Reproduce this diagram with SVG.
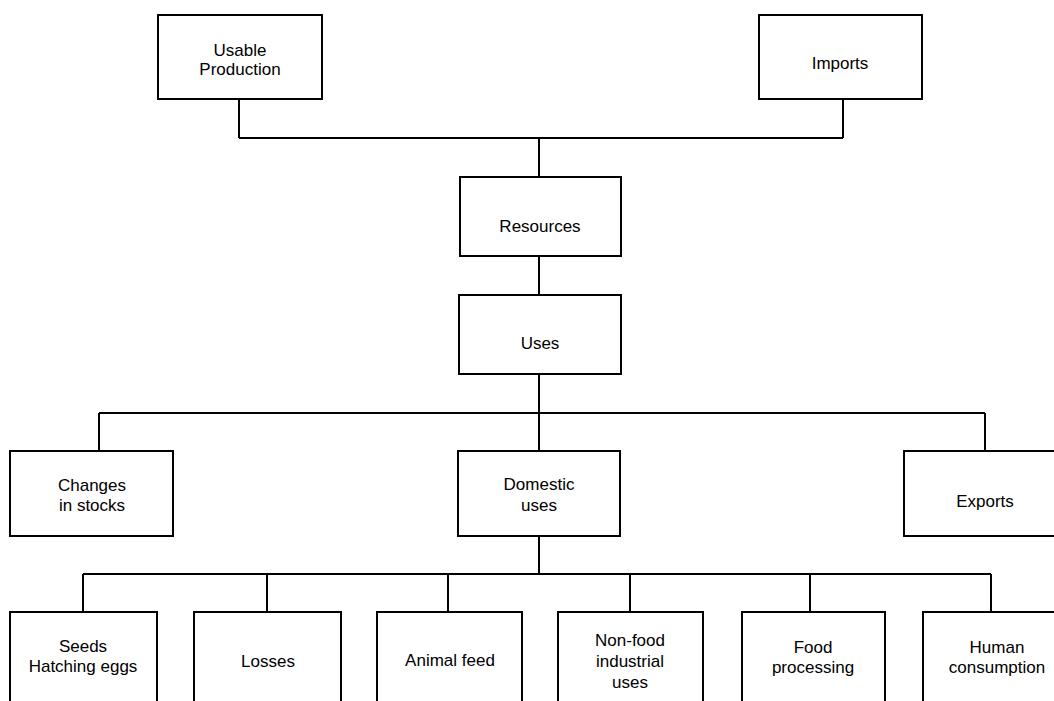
<svg xmlns="http://www.w3.org/2000/svg" width="1054" height="701" viewBox="0 0 1054 701">
<style>
.box{fill:#fff;stroke:#000;stroke-width:2}
.ln{fill:none;stroke:#000;stroke-width:2}
text{font-family:"Liberation Sans",Arial,sans-serif;font-size:17px;fill:#000;text-anchor:middle}
</style>
<rect width="1054" height="701" fill="#fff"/>
<g id="connectors" class="ln">
<path d="M239 99V138M843 99V138M239 138H843M539 138V177"/>
<path d="M539 256V295"/>
<path d="M539 374V451M99 413H985M99 413V451M985 413V451"/>
<path d="M539 536V574M83 574H991M83 574V612M267 574V612M448 574V612M630 574V612M810 574V612M991 574V612"/>
</g>
<g id="usable-production"><rect class="box" x="158" y="15" width="164" height="84"/><text x="240" y="56">Usable</text><text x="240" y="75">Production</text></g>
<g id="imports"><rect class="box" x="759" y="15" width="163" height="84"/><text x="840" y="69">Imports</text></g>
<g id="resources"><rect class="box" x="460" y="177" width="161" height="79"/><text x="540" y="232">Resources</text></g>
<g id="uses"><rect class="box" x="459" y="295" width="162" height="79"/><text x="540" y="349">Uses</text></g>
<g id="changes-in-stocks"><rect class="box" x="10" y="451" width="163" height="85"/><text x="92" y="491">Changes</text><text x="92" y="511">in stocks</text></g>
<g id="domestic-uses"><rect class="box" x="458" y="451" width="162" height="85"/><text x="539" y="490">Domestic</text><text x="539" y="511">uses</text></g>
<g id="exports"><rect class="box" x="904" y="451" width="162" height="85"/><text x="985" y="507">Exports</text></g>
<g id="seeds"><rect class="box" x="10" y="612" width="147" height="110"/><text x="83" y="652">Seeds</text><text x="83" y="672">Hatching eggs</text></g>
<g id="losses"><rect class="box" x="194" y="612" width="147" height="110"/><text x="268" y="667">Losses</text></g>
<g id="animal-feed"><rect class="box" x="377" y="612" width="145" height="110"/><text x="450" y="666">Animal feed</text></g>
<g id="non-food"><rect class="box" x="558" y="612" width="145" height="110"/><text x="630" y="646">Non-food</text><text x="630" y="667">industrial</text><text x="630" y="688">uses</text></g>
<g id="food-processing"><rect class="box" x="742" y="612" width="143" height="110"/><text x="813" y="653">Food</text><text x="813" y="673">processing</text></g>
<g id="human-consumption"><rect class="box" x="923" y="612" width="145" height="110"/><text x="997" y="653">Human</text><text x="997" y="673">consumption</text></g>
</svg>
